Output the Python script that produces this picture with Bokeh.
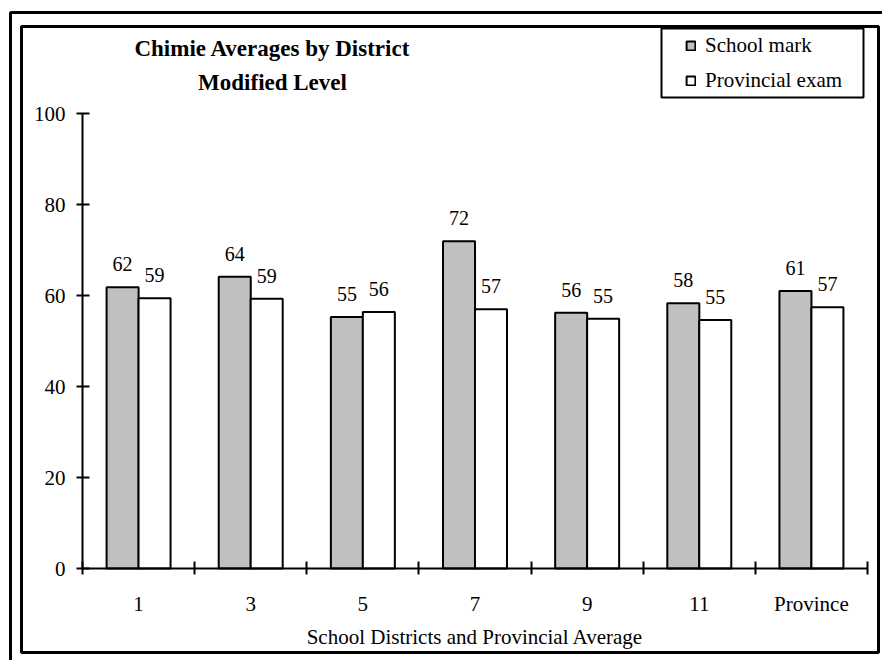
from bokeh.plotting import figure
from bokeh.models import (ColumnDataSource, FixedTicker, LabelSet, Label,
                          BoxAnnotation, Legend, LegendItem, Range1d)
from bokeh.embed import file_html
from bokeh.resources import INLINE

# ---- data ----
categories = ["1", "3", "5", "7", "9", "11", "Province"]
school_mark = [61.8, 64.1, 55.3, 71.9, 56.2, 58.3, 61.0]
provincial_exam = [59.4, 59.3, 56.4, 57.0, 54.9, 54.6, 57.4]
y_ticks = [0, 20, 40, 60, 80, 100]
series_names = ["School mark", "Provincial exam"]
title_lines = ["Chimie Averages by District", "Modified Level"]
x_title = "School Districts and Provincial Average"

FONT = "Liberation Serif"
W, H = 882, 660
n = len(categories)
centers = [2 * i + 1 for i in range(n)]
boundaries = [2 * i for i in range(n + 1)]
bar_w = 0.571
off = 0.285

# plot area geometry (pixels on the canvas)
ax_left, ax_right = 82, 867      # x data 0 .. 2n
ax_top, ax_bottom = 113, 568     # y data 100 .. 0
xs = (ax_right - ax_left) / (2 * n)
ys = (ax_bottom - ax_top) / 100.0
x_range = Range1d(-ax_left / xs, 2 * n + (W - ax_right) / xs)
y_range = Range1d(-(H - ax_bottom) / ys, 100 + ax_top / ys)

src_s = ColumnDataSource(dict(x=[c - off for c in centers], top=school_mark,
                              label=[str(int(v + 0.5)) for v in school_mark]))
src_e = ColumnDataSource(dict(x=[c + off for c in centers], top=provincial_exam,
                              label=[str(int(v + 0.5)) for v in provincial_exam]))

p = figure(width=W, height=H, x_range=x_range, y_range=y_range,
           output_backend="svg", toolbar_location=None,
           min_border=0, min_border_left=0, min_border_right=0,
           min_border_top=0, min_border_bottom=0)
p.outline_line_color = None
p.grid.visible = False
p.background_fill_color = "white"
p.border_fill_color = "white"

# y axis
ya = p.yaxis[0]
ya.fixed_location = 0
ya.bounds = (0, 100)
ya.ticker = FixedTicker(ticks=y_ticks)
ya.axis_line_width = 2
ya.axis_line_color = "black"
ya.major_tick_line_width = 2
ya.major_tick_line_color = "black"
ya.major_tick_in = 7
ya.major_tick_out = 6
ya.minor_tick_line_color = None
ya.major_label_standoff = 11
ya.major_label_text_font = FONT
ya.major_label_text_font_size = "21px"
ya.major_label_text_color = "black"

# x axis
xa = p.xaxis[0]
xa.fixed_location = 0
xa.bounds = (0, 2 * n)
xa.ticker = FixedTicker(ticks=centers, minor_ticks=boundaries)
xa.major_label_overrides = {c: lab for c, lab in zip(centers, categories)}
xa.axis_line_width = 2
xa.axis_line_color = "black"
xa.major_tick_line_color = None
xa.major_tick_in = 0
xa.major_tick_out = 0
xa.minor_tick_line_color = "black"
xa.minor_tick_line_width = 2
xa.minor_tick_in = 7
xa.minor_tick_out = 6
xa.major_label_standoff = 17
xa.major_label_text_font = FONT
xa.major_label_text_font_size = "21px"
xa.major_label_text_color = "black"
xa.axis_label = x_title
xa.axis_label_text_font = FONT
xa.axis_label_text_font_size = "21px"
xa.axis_label_text_font_style = "normal"
xa.axis_label_text_color = "black"
xa.axis_label_standoff = 6

# bars
r1 = p.vbar(x="x", top="top", width=bar_w, bottom=0, source=src_s,
            fill_color="#c0c0c0", line_color="black", line_width=2)
r2 = p.vbar(x="x", top="top", width=bar_w, bottom=0, source=src_e,
            fill_color="white", line_color="black", line_width=2)

for src in (src_s, src_e):
    p.add_layout(LabelSet(x="x", y="top", text="label", source=src,
                          text_align="center", text_baseline="alphabetic",
                          y_offset=16, text_font=FONT, text_font_size="20px",
                          text_color="black"))

# title (screen units measured from the bottom-left of the canvas)
for txt, yy in zip(title_lines, [48, 82]):
    p.add_layout(Label(x=272, y=H - yy, x_units="screen", y_units="screen", text=txt,
                       text_align="center", text_baseline="middle",
                       text_font=FONT, text_font_size="23px", text_font_style="bold",
                       text_color="black"))

def frame_box(left, top, right, bottom, lw, fill=None):
    return BoxAnnotation(left=left, right=right, top=H - top, bottom=H - bottom,
                         left_units="screen", right_units="screen",
                         top_units="screen", bottom_units="screen",
                         fill_color=fill, fill_alpha=1 if fill else 0,
                         line_color="black", line_alpha=1, line_width=lw)

p.add_layout(frame_box(10, 12, W + 20, H + 20, 3))
p.add_layout(frame_box(21, 26, 878, 652, 3))
p.add_layout(frame_box(661, 28, 863, 97, 2, "white"))

legend = Legend(items=[LegendItem(label=series_names[0], renderers=[r1]),
                       LegendItem(label=series_names[1], renderers=[r2])],
                location=(685, H - 93), border_line_color=None, background_fill_alpha=0,
                padding=0, spacing=10, label_height=24, glyph_width=11, glyph_height=11,
                label_standoff=9, label_text_font=FONT, label_text_font_size="21px",
                label_text_color="black", margin=0)
p.add_layout(legend)

open("out.html", "w").write(file_html(p, INLINE))
